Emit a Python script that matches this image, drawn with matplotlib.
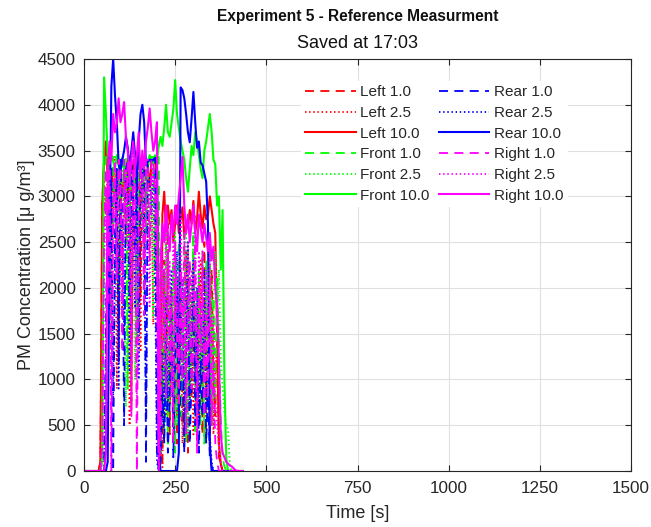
import matplotlib
matplotlib.use("Agg")
import matplotlib.pyplot as plt
import numpy as np

plt.rcParams['font.family'] = ['Liberation Sans', 'DejaVu Sans']

# time grid [s]
time_s = [0] + list(range(40, 440, 5))

left_1_0 = [0,
    0, 100, 2900, 3400, 3400, 3400, 3400, 2100, 3400, 3400,
    3400, 1200, 3400, 3400, 3400, 2600, 3400, 3400, 700, 3400,
    3400, 3400, 3400, 1900, 3400, 3400, 3400, 3400, 3400, 3400,
    3400, 3400, 3400, 600, 80, 60, 2300, 900, 2700, 400,
    2000, 1200, 2500, 300, 1800, 2200, 500, 1600, 2400, 200,
    1900, 800, 2300, 1400, 300, 2100, 1700, 400, 2500, 900,
    1800, 200, 2200, 1000, 600, 1900, 150, 80, 0, 0,
    0, 0, 0, 0, 0, 0, 0, 0, 0, 0]
left_2_5 = [0,
    0, 60, 2400, 3200, 2800, 3300, 1500, 3100, 2600, 3300,
    900, 2900, 3200, 1700, 3300, 2500, 3100, 500, 2800, 3300,
    3300, 2200, 3100, 1300, 3200, 2700, 3300, 2400, 3000, 3300,
    1600, 3200, 2900, 400, 60, 40, 1900, 600, 2300, 1100,
    1700, 500, 2100, 1500, 900, 2000, 300, 1300, 2200, 700,
    1500, 2100, 400, 1800, 1200, 600, 2300, 1000, 1900, 300,
    1500, 600, 1800, 400, 1100, 1400, 200, 60, 0, 0,
    0, 0, 0, 0, 0, 0, 0, 0, 0, 0]
left_10_0 = [0,
    0, 100, 2900, 3400, 3600, 3200, 3150, 3300, 3100, 3000,
    3200, 3050, 2900, 3150, 3000, 3250, 3100, 2950, 3000, 3200,
    3100, 3250, 3000, 2900, 3200, 3350, 3400, 3300, 3100, 3400,
    3350, 3400, 3200, 1000, 100, 2800, 3050, 2600, 2900, 2700,
    2850, 2500, 2700, 2900, 2600, 2750, 2880, 2550, 2700, 2650,
    2850, 2700, 2950, 2600, 2750, 3050, 2800, 2650, 2900, 2750,
    2800, 3000, 2850, 2700, 2600, 1500, 300, 80, 0, 0,
    0, 0, 0, 0, 0, 0, 0, 0, 0, 0]
front_1_0 = [0,
    0, 0, 100, 2800, 3430, 3430, 3430, 1800, 3430, 3430,
    3430, 3430, 2500, 3430, 3430, 3430, 900, 3430, 3430, 3430,
    3430, 1400, 3430, 3430, 3430, 3430, 2600, 3430, 3430, 3430,
    3430, 2200, 3430, 3430, 200, 1400, 500, 2600, 300, 1900,
    1100, 2300, 200, 1700, 2500, 600, 1500, 2100, 300, 2400,
    800, 1600, 2600, 400, 1300, 2200, 700, 1800, 300, 2300,
    1200, 2600, 500, 1900, 800, 2100, 1400, 600, 150, 50,
    0, 0, 0, 0, 0, 0, 0, 0, 0, 0]
front_2_5 = [0,
    0, 0, 80, 2400, 3100, 2700, 3300, 1400, 2900, 3200,
    2600, 1900, 3100, 3300, 2200, 700, 3000, 2800, 3200, 2400,
    1000, 3100, 3300, 2700, 3200, 1900, 2800, 3300, 2600, 3100,
    1700, 3000, 2900, 150, 1000, 2200, 300, 1800, 2400, 700,
    2000, 1400, 2600, 500, 1900, 2300, 900, 1600, 2700, 400,
    2100, 1300, 2600, 900, 2000, 1500, 500, 2400, 1100, 2000,
    700, 2500, 1300, 1800, 2400, 1700, 2200, 1200, 900, 650,
    500, 450, 80, 0, 0, 0, 0, 0, 0, 0]
front_10_0 = [0,
    0, 0, 150, 4300, 3900, 3450, 3400, 3450, 3380, 3300,
    3450, 3400, 3350, 3420, 3300, 3200, 3100, 3400, 3350, 3050,
    3300, 3400, 3380, 3420, 3300, 3100, 2900, 3300, 3450, 3400,
    3350, 3450, 3400, 3550, 3650, 3550, 3750, 4000, 3700, 3650,
    3800, 3950, 4270, 3900, 3750, 3600, 3500, 3400, 3200, 3050,
    3300, 3550, 3450, 3700, 3600, 3450, 3300, 3200, 3500, 3600,
    3750, 3900, 3700, 3400, 3350, 2900, 3000, 2200, 2850, 1000,
    150, 0, 0, 0, 0, 0, 0, 0, 0, 0]
rear_1_0 = [0,
    0, 0, 0, 0, 1500, 3100, 2000, 3300, 0, 2600,
    3300, 1200, 3400, 2800, 500, 3300, 3400, 1900, 3400, 3000,
    2400, 3400, 1500, 3400, 3400, 3400, 100, 3400, 3400, 3400,
    3400, 3400, 200, 0, 100, 900, 300, 1400, 200, 800,
    1700, 150, 1200, 2000, 400, 900, 1600, 200, 1300, 2100,
    300, 1000, 1800, 500, 1500, 200, 1200, 600, 1700, 300,
    900, 150, 50, 0, 0, 0, 0, 0, 0, 0,
    0, 0, 0, 0, 0, 0, 0, 0, 0, 0]
rear_2_5 = [0,
    0, 0, 0, 0, 1200, 2800, 1700, 3100, 800, 2300,
    3200, 900, 2900, 2500, 1500, 3000, 3300, 1100, 2900, 2700,
    1800, 3200, 1000, 2900, 3300, 2600, 600, 3000, 3200, 2800,
    3300, 2100, 100, 0, 200, 1300, 500, 1900, 700, 1400,
    2200, 500, 1800, 2400, 900, 1500, 2100, 400, 1900, 2500,
    700, 1600, 2300, 1000, 2000, 500, 1700, 1100, 2200, 700,
    1300, 400, 100, 0, 0, 0, 0, 0, 0, 0,
    0, 0, 0, 0, 0, 0, 0, 0, 0, 0]
rear_10_0 = [0,
    0, 0, 0, 0, 0, 100, 2500, 4200, 4500, 4100,
    3800, 3350, 3270, 3400, 3500, 3650, 3530, 3310, 3500, 3700,
    3450, 3150, 3600, 3900, 4000, 3810, 3340, 3380, 3400, 3380,
    3400, 3420, 3350, 200, 0, 0, 0, 0, 0, 0,
    0, 0, 0, 0, 200, 4190, 4160, 4070, 3900, 3700,
    3590, 3850, 4140, 3810, 3530, 3600, 3370, 3340, 3250, 3160,
    2700, 300, 0, 0, 0, 0, 0, 0, 0, 0,
    0, 0, 0, 0, 0, 0, 0, 0, 0, 0]
right_1_0 = [0,
    0, 0, 300, 2600, 3300, 1800, 3400, 0, 2900, 3400,
    2100, 3400, 3300, 1300, 3400, 2700, 3400, 3400, 600, 3400,
    3400, 0, 2800, 3400, 3400, 1700, 3400, 3400, 2300, 3400,
    3400, 3100, 2500, 0, 300, 1600, 2200, 800, 2400, 1200,
    1900, 300, 2500, 1500, 700, 2200, 1000, 2600, 400, 1800,
    2300, 900, 1400, 2500, 200, 2000, 1300, 2400, 600, 1700,
    800, 2100, 500, 1200, 300, 100, 0, 0, 0, 0,
    0, 0, 0, 0, 0, 0, 0, 0, 0, 0]
right_2_5 = [0,
    0, 0, 200, 2200, 3000, 2500, 3300, 600, 2600, 3200,
    2700, 3300, 2900, 1900, 3100, 3300, 2400, 3200, 1200, 3300,
    2900, 700, 2500, 3200, 2800, 2300, 3300, 2900, 1800, 3100,
    3300, 2600, 2000, 100, 700, 2400, 1400, 2800, 1700, 2300,
    800, 2700, 1600, 2100, 1200, 2800, 1500, 2000, 900, 2500,
    1300, 2200, 1800, 2800, 900, 2400, 1600, 2100, 1000, 2200,
    1400, 2500, 900, 1700, 800, 500, 300, 100, 0, 0,
    0, 0, 0, 0, 0, 0, 0, 0, 0, 0]
right_10_0 = [0,
    0, 0, 0, 0, 200, 3300, 3600, 3400, 3900, 3700,
    3800, 4070, 3810, 3900, 4030, 3640, 3500, 3160, 3400, 3600,
    3300, 3450, 3700, 3200, 3500, 3300, 3600, 3750, 3960, 3700,
    3500, 3600, 3810, 200, 2300, 2700, 2500, 2900, 2600, 2400,
    2800, 2600, 2900, 2700, 3000, 3200, 3430, 2900, 2600, 2800,
    2500, 2700, 2900, 2600, 2400, 2800, 2650, 2500, 2700, 2550,
    2400, 2600, 2300, 2450, 2000, 1800, 1200, 400, 200, 150,
    100, 80, 60, 50, 30, 10, 0, 0, 0, 0]

series = [
    ("Left 1.0", left_1_0, "#ff0000", "dash"),
    ("Left 2.5", left_2_5, "#ff0000", "dot"),
    ("Left 10.0", left_10_0, "#ff0000", "solid"),
    ("Front 1.0", front_1_0, "#00ff00", "dash"),
    ("Front 2.5", front_2_5, "#00ff00", "dot"),
    ("Front 10.0", front_10_0, "#00ff00", "solid"),
    ("Rear 1.0", rear_1_0, "#0000ff", "dash"),
    ("Rear 2.5", rear_2_5, "#0000ff", "dot"),
    ("Rear 10.0", rear_10_0, "#0000ff", "solid"),
    ("Right 1.0", right_1_0, "#ff00ff", "dash"),
    ("Right 2.5", right_2_5, "#ff00ff", "dot"),
    ("Right 10.0", right_10_0, "#ff00ff", "solid"),
]
styles = {"dash": (0, (5, 3.5)), "dot": (0, (0.8, 1.5)), "solid": "-"}
widths = {"dash": 1.3, "dot": 1.3, "solid": 1.5}

xticks = [0, 250, 500, 750, 1000, 1250, 1500]
yticks = [0, 500, 1000, 1500, 2000, 2500, 3000, 3500, 4000, 4500]

fig = plt.figure(figsize=(6.51, 5.27), dpi=100)
ax = fig.add_axes([84/651, 1-471/527, (631-84)/651, (471-59)/527])

for name, vals, col, ls in series:
    ax.plot(time_s, vals, color=col, linestyle=styles[ls], lw=widths[ls], label=name)

ax.set_xlim(0, 1500)
ax.set_ylim(0, 4500)
ax.set_xticks(xticks)
ax.set_yticks(yticks)
ax.grid(True, color="#e0e0e0", lw=0.8)
ax.set_axisbelow(True)
dark = "#262626"
for s in ax.spines.values():
    s.set_color(dark)
    s.set_linewidth(0.8)
ax.tick_params(direction="in", length=4, width=0.8, colors=dark, labelsize=12.3,
               top=True, right=True, labelcolor=dark)
ax.tick_params(axis="y", pad=6)
ax.tick_params(axis="x", pad=7)
ax.set_xlabel("Time [s]", fontsize=13, color=dark, labelpad=7)
ax.set_ylabel("PM Concentration [μ g/m³]", fontsize=13, color=dark, labelpad=2)

fig.text(357.5/651, 1-17/527, "Experiment 5 - Reference Measurment", ha="center",
         va="center", fontsize=11.2, fontweight="bold", color="#111111")
fig.text(357.5/651, 1-43/527, "Saved at 17:03", ha="center", va="center",
         fontsize=13, color="#111111")

leg = ax.legend(ncol=2, loc="upper left", bbox_to_anchor=((293-84)/547, (471-73)/412),
                fontsize=11, frameon=True, handlelength=3.3, handletextpad=0.3,
                columnspacing=0.6, labelspacing=0.44, borderpad=0.3)
leg.get_frame().set_edgecolor("none")
leg.get_frame().set_facecolor("white")
leg.get_frame().set_alpha(1)
for t in leg.get_texts():
    t.set_color(dark)

fig.savefig("out.png", dpi=100)
